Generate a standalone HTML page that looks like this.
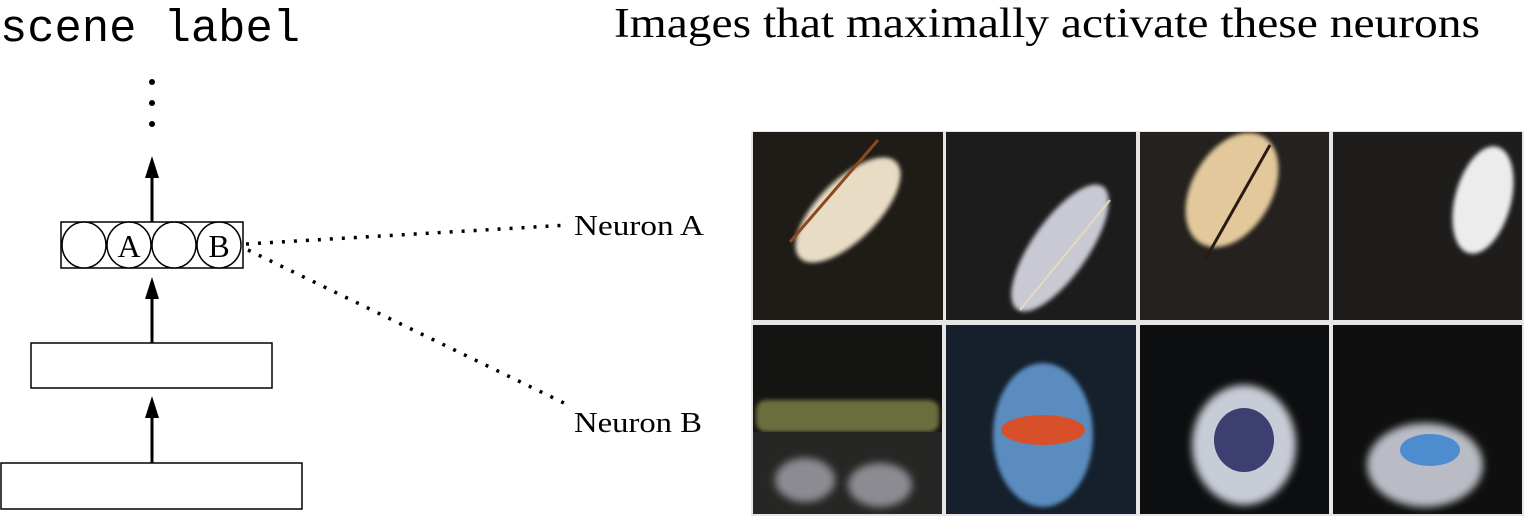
<!DOCTYPE html>
<html><head><meta charset="utf-8"><style>
html,body{margin:0;padding:0;background:#fff;}
svg{display:block;}
</style></head><body>
<svg width="1529" height="518" viewBox="0 0 1529 518" xmlns="http://www.w3.org/2000/svg">
<defs>
<filter id="bl" x="-30%" y="-30%" width="160%" height="160%"><feGaussianBlur stdDeviation="4"/></filter>
<filter id="bl2" x="-30%" y="-30%" width="160%" height="160%"><feGaussianBlur stdDeviation="2"/></filter>
</defs>
<text x="0" y="41" font-family="Liberation Mono, monospace" font-size="45" fill="#000" textLength="300" lengthAdjust="spacingAndGlyphs">scene label</text>
<text x="614" y="37" font-family="Liberation Serif, serif" font-size="42" fill="#000" textLength="866" lengthAdjust="spacingAndGlyphs">Images that maximally activate these neurons</text>
<g fill="#000">
<circle cx="152" cy="82" r="3"/><circle cx="152" cy="103" r="3"/><circle cx="152" cy="124" r="3"/>
</g>
<g stroke="#000" stroke-width="3" fill="#000">
<line x1="152" y1="222" x2="152" y2="175"/><path d="M145,178 L152,156 L159,178 Z" stroke="none"/>
<line x1="152" y1="343" x2="152" y2="296"/><path d="M145,299 L152,277 L159,299 Z" stroke="none"/>
<line x1="152" y1="463" x2="152" y2="416"/><path d="M145,418 L152,396 L159,418 Z" stroke="none"/>
</g>
<g fill="#fff" stroke="#000" stroke-width="1.5">
<rect x="61" y="222" width="182" height="46"/>
<ellipse cx="84" cy="245" rx="22" ry="23"/>
<ellipse cx="129" cy="245" rx="22" ry="23"/>
<ellipse cx="174" cy="245" rx="22" ry="23"/>
<ellipse cx="219" cy="245" rx="22" ry="23"/>
</g>
<text x="129" y="257" text-anchor="middle" font-family="Liberation Serif, serif" font-size="32">A</text>
<text x="219" y="257" text-anchor="middle" font-family="Liberation Serif, serif" font-size="32">B</text>
<rect x="31" y="343" width="241" height="45" fill="#fff" stroke="#000" stroke-width="1.5"/>
<rect x="1" y="463" width="301" height="46" fill="#fff" stroke="#000" stroke-width="1.5"/>
<line x1="246" y1="244" x2="568" y2="225" stroke="#000" stroke-width="3.5" stroke-dasharray="3,9"/>
<line x1="248" y1="250" x2="566" y2="404" stroke="#000" stroke-width="3.5" stroke-dasharray="3,9"/>
<text x="574" y="235" font-family="Liberation Serif, serif" font-size="29" textLength="130" lengthAdjust="spacingAndGlyphs">Neuron A</text>
<text x="574" y="432" font-family="Liberation Serif, serif" font-size="29" textLength="128" lengthAdjust="spacingAndGlyphs">Neuron B</text>

<g>
<rect x="751" y="131" width="773" height="385" fill="#e6e6e6"/>
<g>
<rect x="753" y="132" width="190" height="188" fill="#1f1b17"/>
<ellipse cx="848" cy="210" rx="30" ry="68" transform="rotate(45 848 210)" fill="#e8dcc4" filter="url(#bl2)"/>
<line x1="790" y1="242" x2="878" y2="140" stroke="#8a4a20" stroke-width="3"/>
</g>
<g>
<rect x="946" y="132" width="190" height="188" fill="#1d1c1d"/>
<ellipse cx="1060" cy="248" rx="28" ry="75" transform="rotate(35 1060 248)" fill="#c9c9d4" filter="url(#bl2)"/>
<line x1="1020" y1="310" x2="1110" y2="200" stroke="#e8d8c0" stroke-width="2"/>
</g>
<g>
<rect x="1140" y="132" width="189" height="188" fill="#24211e"/>
<ellipse cx="1232" cy="190" rx="40" ry="62" transform="rotate(30 1232 190)" fill="#e2c89a" filter="url(#bl2)"/>
<line x1="1205" y1="260" x2="1270" y2="145" stroke="#2a1a12" stroke-width="3"/>
</g>
<g>
<rect x="1333" y="132" width="189" height="188" fill="#1e1d1c"/>
<ellipse cx="1483" cy="200" rx="28" ry="55" transform="rotate(15 1483 200)" fill="#ececec" filter="url(#bl2)"/>
</g>
<g>
<rect x="753" y="325" width="189" height="189" fill="#141512"/>
<rect x="756" y="400" width="183" height="32" rx="10" fill="#6a6e3c" filter="url(#bl2)"/>
<rect x="753" y="432" width="189" height="82" fill="#262624"/>
<ellipse cx="805" cy="480" rx="30" ry="22" fill="#8d8b92" filter="url(#bl)"/>
<ellipse cx="880" cy="485" rx="32" ry="22" fill="#8d8b92" filter="url(#bl)"/>
</g>
<g>
<rect x="946" y="325" width="190" height="189" fill="#15202c"/>
<ellipse cx="1043" cy="435" rx="50" ry="72" fill="#5a8cbf" filter="url(#bl2)"/>
<ellipse cx="1043" cy="430" rx="42" ry="15" fill="#d8502a"/>
</g>
<g>
<rect x="1140" y="325" width="189" height="189" fill="#0d0e10"/>
<ellipse cx="1244" cy="445" rx="52" ry="60" fill="#c8ccd6" filter="url(#bl)"/>
<ellipse cx="1244" cy="440" rx="30" ry="32" fill="#3d3f70"/>
</g>
<g>
<rect x="1333" y="325" width="189" height="189" fill="#0e0f0e"/>
<ellipse cx="1425" cy="465" rx="58" ry="42" fill="#b9bcc4" filter="url(#bl)"/>
<ellipse cx="1430" cy="450" rx="30" ry="16" fill="#4e8cd0"/>
</g>
</g>
</svg>
</body></html>
